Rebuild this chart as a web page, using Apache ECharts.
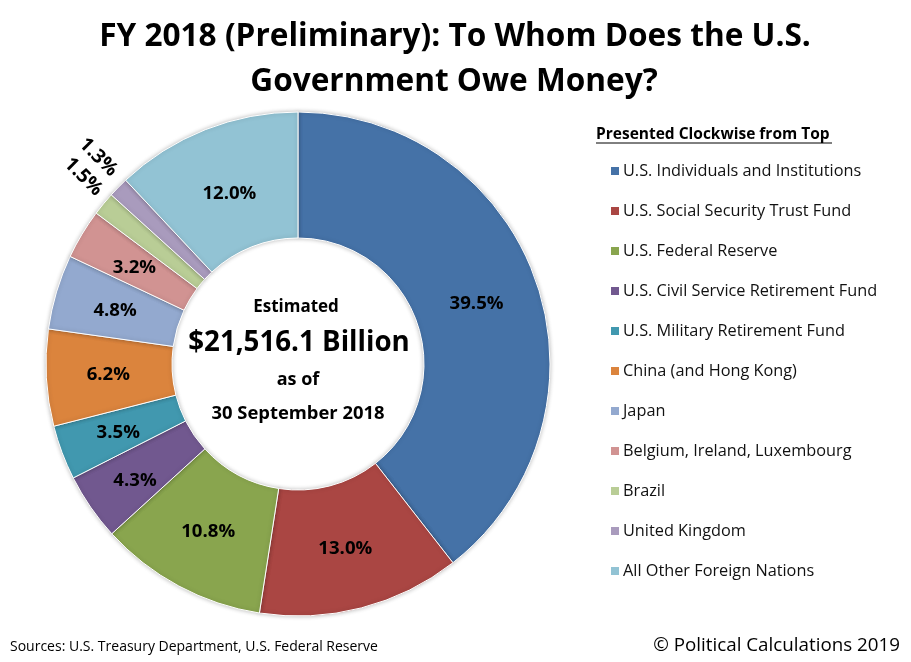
<!DOCTYPE html>
<html>
<head>
<meta charset="utf-8">
<style>
html,body{margin:0;padding:0;background:#fff;}
#main{width:911px;height:662px;}
</style>
<script src="https://cdn.jsdelivr.net/npm/echarts@6/dist/echarts.min.js"></script>
</head>
<body>
<div id="main"></div>
<script>
const categories = ['U.S. Individuals and Institutions','U.S. Social Security Trust Fund','U.S. Federal Reserve','U.S. Civil Service Retirement Fund','U.S. Military Retirement Fund','China (and Hong Kong)','Japan','Belgium, Ireland, Luxembourg','Brazil','United Kingdom','All Other Foreign Nations'];
const shares = [39.5,13.0,10.8,4.3,3.5,6.2,4.8,3.2,1.5,1.3,12.0];
const colors = ['#4572a7','#aa4643','#89a54e','#71588f','#4198af','#db843d','#93a9cf','#d19392','#b9cd96','#a99bbd','#92c3d4'];
// these two slices are too thin, label goes outside and turned
const outsideLabels = ['Brazil','United Kingdom'];

const font = '"Open Sans"';
const myChart = echarts.init(document.getElementById('main'));

function txt(text, x, y, size, weight, align){
	return {type:'text', x:x, y:y, style:{text:text, font:(weight||'normal')+' '+size+'px '+font, fill:'#000', textAlign:align||'center', textVerticalAlign:'middle'}};
}

let pieData = categories.map(function(name,i){
	let d = {name:name, value:shares[i], itemStyle:{color:colors[i]}};
	if(outsideLabels.indexOf(name)>=0){
		d.label = {position:'outside', rotate:-45, distance:3, fontSize:19.5};
		d.labelLine = {show:false};
	}
	return d;
});

// hand placed label offsets, same order as categories
const labelNudge = [[-3,2],[-1,-1],[1,-1],[-5,8],[0,1],[2,0],[1,2],[1,3],[29,-31],[27,-32],[2,8]];

let option = {
	animation:false,
	backgroundColor:'#fff',
	textStyle:{fontFamily:font},
	legend:{
		orient:'vertical', left:604, top:157, itemWidth:10, itemHeight:10, itemGap:22,
		icon:'rect', selectedMode:false, data:categories,
		textStyle:{fontSize:16.3, color:'#111', fontFamily:font, padding:[0,0,0,-2], height:18, lineHeight:18}
	},
	series:[{
		type:'pie', center:[298,364], radius:[126,252], startAngle:90, clockwise:true,
		avoidLabelOverlap:false, data:pieData,
		itemStyle:{borderColor:'#fff', borderWidth:1, shadowBlur:4, shadowColor:'rgba(0,0,0,0.25)'},
		label:{position:'inside', fontSize:18.6, fontWeight:'bold', color:'#000', fontFamily:font,
			formatter:function(p){return p.value.toFixed(1)+'%';}},
		labelLine:{show:false},
		labelLayout:function(p){
			let n = labelNudge[p.dataIndex];
			return {dx:n[0], dy:n[1]};
		}
	}],
	graphic:[
		txt('FY 2018 (Preliminary): To Whom Does the U.S.',455,37,31.6,'bold'),
		txt('Government Owe Money?',454,82,31.6,'bold'),
		txt('Estimated',296,307,17,'bold'),
		txt('$21,516.1 Billion',299,343,27.7,'bold'),
		txt('as of',298,380,18,'bold'),
		txt('30 September 2018',298,414,18.4,'bold'),
		txt('Presented Clockwise from Top',596,135,15.5,'bold','left'),
		{type:'line', shape:{x1:596,y1:143,x2:832,y2:143}, style:{stroke:'#000',lineWidth:1}},
		txt('Sources: U.S. Treasury Department, U.S. Federal Reserve',10,647,14,'normal','left'),
		txt('\u00a9 Political Calculations 2019',900,646,18.8,'normal','right')
	]
};
myChart.setOption(option);
</script>
</body>
</html>
